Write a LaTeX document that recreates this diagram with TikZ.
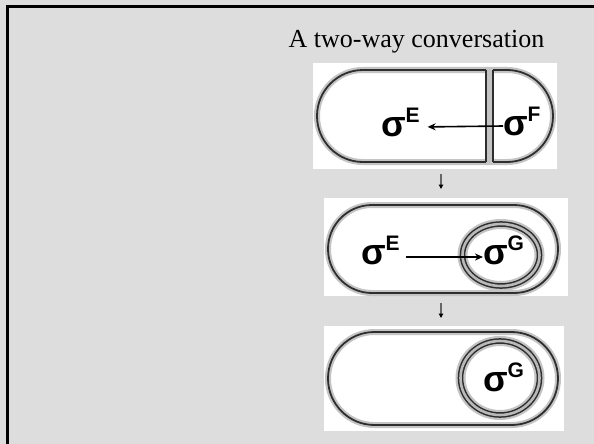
\documentclass[tikz,border=0pt]{standalone}
\usepackage{fontspec}
\setmainfont{Liberation Serif}
\newfontfamily\sigfont{Liberation Sans}
\usetikzlibrary{shapes.misc,shapes.geometric,arrows.meta}

\definecolor{slidegray}{HTML}{DDDDDD}
\definecolor{inkdark}{HTML}{2E2E2E}
\definecolor{halo}{HTML}{C4C4C4}

% sigma factor with its superscript
\newcommand{\sigfac}[1]{{\sigfont\bfseries\fontsize{36}{36}\selectfont σ\raisebox{14pt}{\fontsize{21}{21}\selectfont #1}}}

\tikzset{
  panel/.style={rectangle, fill=white, draw=none, inner sep=0pt, outer sep=0pt},
  capsule/.style={rounded rectangle, draw=inkdark, line width=1.8pt, inner sep=0pt, outer sep=0pt,
    preaction={draw=halo, line width=6pt}},
  ring/.style={ellipse, draw=inkdark, double=gray!55, double distance=2.6pt, line width=1.5pt,
    inner sep=0pt, outer sep=0pt, preaction={draw=halo, line width=10pt}},
  septum/.style={rectangle, fill=halo, draw=none, inner sep=0pt, outer sep=0pt},
  wall/.style={draw=inkdark, line width=1.8pt},
  factor/.style={inner sep=0pt, outer sep=0pt, anchor=base west},
  signal/.style={-{Stealth[length=8pt,width=7pt]}, line width=1.6pt, draw=black},
  flow/.style={-{Triangle[length=4.5pt,width=4.5pt,color=black]}, line width=1.3pt, draw=black!60},
}

\begin{document}
\begin{tikzpicture}[x=1pt,y=-1pt]
  \useasboundingbox (0,0) rectangle (594,444);
  \fill[slidegray] (0,0) rectangle (594,444);
  % slide frame
  \draw[line width=3pt] (7.2,470) -- (7.2,7) -- (620,7);

  % title
  \node[anchor=base, inner sep=0pt, font=\fontsize{26}{26}\selectfont] (title) at (416.5,48) {A two-way conversation};

  % white panels behind each stage
  \node[panel, minimum width=244pt, minimum height=106pt] (box1) at (435,116) {};
  \node[panel, minimum width=244pt, minimum height=98pt] (box2) at (446,247) {};
  \node[panel, minimum width=240pt, minimum height=105pt] (box3) at (444,378.5) {};

  % stage 1: cell divided by the septum
  \node[capsule, minimum width=236pt, minimum height=92pt] (cell1) at (435,116) {};
  \node[septum, minimum width=7pt, minimum height=98pt] (sept1) at (489.5,116) {};
  \draw[wall, shorten <=3pt, shorten >=3pt] (sept1.north west) -- (sept1.south west);
  \draw[wall, shorten <=3pt, shorten >=3pt] (sept1.north east) -- (sept1.south east);
  \node[factor] (sE1) at (381,136) {\sigfac{E}};
  \node[factor] (sF1) at (503,135) {\sigfac{F}};
  \draw[signal, shorten >=8pt] ([yshift=9pt]sF1.base west) -- ([yshift=9pt]sE1.base east);

  % stage 2: engulfed forespore
  \node[capsule, minimum width=230pt, minimum height=88pt] (mother2) at (443,249) {};
  \node[ring, minimum width=77pt, minimum height=62pt] (fore2) at (501,255) {};
  \node[factor] (sE2) at (361,264) {\sigfac{E}};
  \node[factor] (sG2) at (483,264) {\sigfac{G}};
  \draw[signal, shorten <=6pt] ([yshift=7pt]sE2.base east) -- ([yshift=7pt]sG2.base west);

  % stage 3: forespore alone
  \node[capsule, minimum width=230pt, minimum height=93pt] (mother3) at (443,378.5) {};
  \node[ring, minimum width=79pt, minimum height=74pt] (fore3) at (500,378) {};
  \node[factor] (sG3) at (483,391) {\sigfac{G}};

  % progression between stages
  \coordinate (axis) at (441,0);
  \draw[flow, shorten <=5pt, shorten >=9pt] (box1.south -| axis) -- (box2.north -| axis);
  \draw[flow, shorten <=7pt, shorten >=8pt] (box2.south -| axis) -- (box3.north -| axis);
\end{tikzpicture}
\end{document}
